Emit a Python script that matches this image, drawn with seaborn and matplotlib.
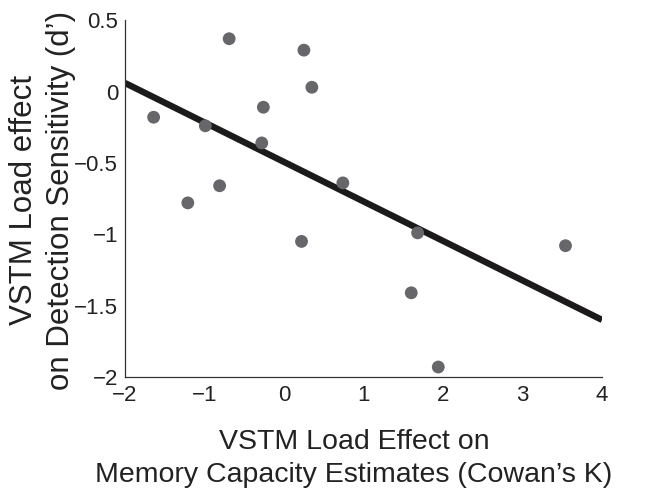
import matplotlib
matplotlib.use("Agg")
import matplotlib.pyplot as plt
import seaborn as sns
import pandas as pd

# Data
cowan_k_effect = [-0.69, 0.25, 0.35, -1.64, -0.99, -0.26, -0.28, -0.81, -1.21, 0.22, 0.74, 1.68, 3.54, 1.60, 1.94]
dprime_effect = [0.37, 0.29, 0.03, -0.18, -0.24, -0.11, -0.36, -0.66, -0.78, -1.05, -0.64, -0.99, -1.08, -1.41, -1.93]
fit_x = [-2.0, 4.0]
fit_y = [0.06, -1.60]
x_ticks = [-2, -1, 0, 1, 2, 3, 4]
y_ticks = [-2, -1.5, -1, -0.5, 0, 0.5]
y_tick_labels = ["\u22122", "\u22121.5", "\u22121", "\u22120.5", "0", "0.5"]
x_tick_labels = ["\u22122", "\u22121", "0", "1", "2", "3", "4"]

sns.set_style("white")
plt.rcParams["font.family"] = ["Liberation Sans", "DejaVu Sans"]

fig = plt.figure(figsize=(6.46, 4.92), dpi=100)
ax = fig.add_axes([0.1935, 0.2337, 0.7385, 0.7253])

pts = pd.DataFrame({"x": cowan_k_effect, "y": dprime_effect})
fit = pd.DataFrame({"x": fit_x, "y": fit_y})

sns.lineplot(data=fit, x="x", y="y", ax=ax, color="#1c1a1a", linewidth=4.6,
             solid_capstyle="butt", zorder=2)
sns.scatterplot(data=pts, x="x", y="y", ax=ax, color="#66666b", s=85,
                edgecolor="none", zorder=3)

ax.set_xlim(-2, 4)
ax.set_ylim(-2, 0.5)
ax.set_xticks(x_ticks)
ax.set_xticklabels(x_tick_labels)
ax.set_yticks(y_ticks)
ax.set_yticklabels(y_tick_labels)

for s in ["top", "right"]:
    ax.spines[s].set_visible(False)
for s in ["left", "bottom"]:
    ax.spines[s].set_color("#333333")
    ax.spines[s].set_linewidth(0.9)

ax.tick_params(axis="both", direction="in", length=4, width=0.9, color="#333333",
               labelsize=16, labelcolor="#222222")
ax.tick_params(axis="x", pad=5.5)
ax.tick_params(axis="y", pad=5)
for c in ax.collections:
    c.set_clip_on(False)

ax.set_xlabel("VSTM Load Effect on\nMemory Capacity Estimates (Cowan\u2019s K)",
              fontsize=20.5, color="#222222", linespacing=1.33)
ax.set_ylabel("VSTM Load effect\non Detection Sensitivity (d\u2019)",
              fontsize=22.5, color="#222222", linespacing=1.3)
ax.xaxis.set_label_coords(0.48, -0.146, transform=ax.transAxes)
ax.xaxis.label.set_va("top")
ax.yaxis.set_label_coords(-0.172, 0.496, transform=ax.transAxes)
ax.yaxis.label.set_va("center")

fig.savefig("out.png", dpi=100, facecolor="white")
